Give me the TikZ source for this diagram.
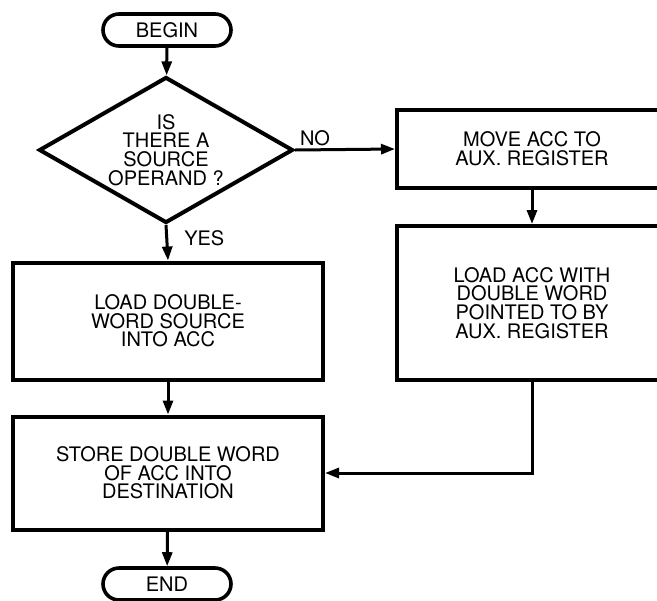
\documentclass[tikz,border=0pt]{standalone}
\usepackage{fontspec}
\setmainfont{TeX Gyre Heros}
\usetikzlibrary{arrows.meta,shapes.geometric}

\begin{document}
\begin{tikzpicture}[
  x=0.5pt, y=-0.5pt,
  font=\fontsize{10}{9.3}\selectfont,
  terminal/.style={draw, line width=1.8pt, rounded corners=8pt, minimum width=64pt, minimum height=16pt, inner sep=0pt},
  decision/.style={draw, diamond, line width=2pt, aspect=1.7, minimum width=127pt, minimum height=73pt, inner sep=0pt, align=center},
  process/.style={draw, line width=2pt, minimum width=155pt, inner sep=0pt, align=center},
  arrow/.style={-{Triangle[length=7pt, width=5pt]}, line width=1.5pt},
  tag/.style={inner sep=1pt}
]
\path[use as bounding box] (0,0) rectangle (657,600);
\clip (0,0) rectangle (657,600);

\node[terminal] (start) at (167,30) {BEGIN};
\node[decision] (ask) at (166,150) {IS\\THERE A\\SOURCE\\OPERAND ?};
\node[process, minimum width=135pt, minimum height=39pt] (moveacc) at (532,149) {MOVE ACC TO\\AUX. REGISTER};
\node[process, minimum width=135pt, minimum height=77pt] (loadacc) at (532,303) {LOAD ACC WITH\\DOUBLE WORD\\POINTED TO BY\\AUX. REGISTER};
\node[process, minimum height=58.5pt] (loaddw) at (168,321) {LOAD DOUBLE-\\WORD SOURCE\\INTO ACC};
\node[process, minimum height=56.5pt] (store) at (168,473) {STORE DOUBLE WORD\\OF ACC INTO\\DESTINATION};
\node[terminal] (stop) at (167,584) {END};

\draw[arrow] (start) -- (ask);
\draw[arrow] (ask.east) -- node[tag, above, pos=0.2] {NO} (moveacc.west);
\draw[arrow] (ask.south) -- node[tag, right=7pt, pos=0.38] {YES} (loaddw.north);
\draw[arrow] (moveacc) -- (loadacc);
\draw[arrow] (loaddw) -- (store);
\draw[arrow] (loadacc.south) |- (store.east);
\draw[arrow] (store) -- (stop);
\end{tikzpicture}
\end{document}
